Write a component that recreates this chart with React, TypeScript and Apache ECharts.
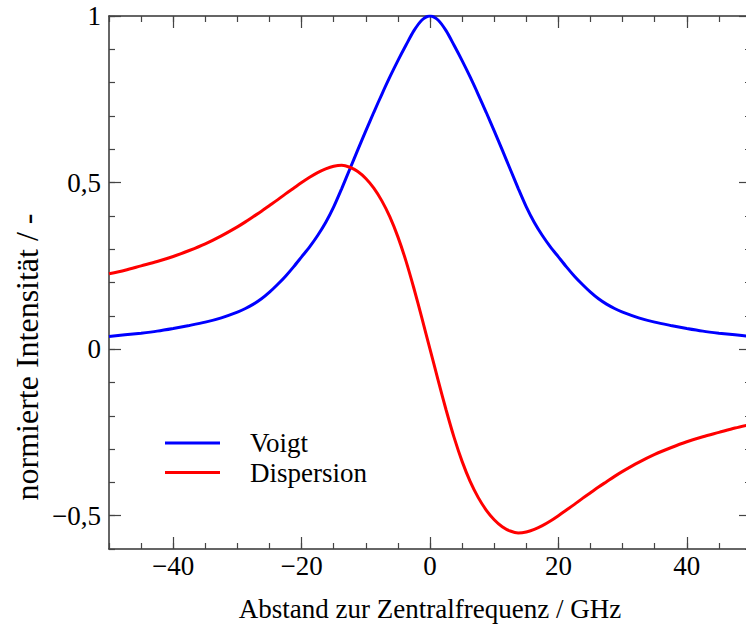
import React, { useEffect, useRef } from 'react';
import * as echarts from 'echarts';

// Frequency offset (GHz)
const freqGHz = [
  -50, -47.5, -45, -42.5, -40, -37.5, -35, -32.5,
  -30, -28.75, -27.5, -26.25, -25, -23.75, -22.5, -21.25, -20, -18.75, -17.5, -16.25,
  -15, -13.75, -12.5, -11.25, -10, -8.75, -7.5, -6.25, -5, -3.75, -2.5, -1.25,
  0,
  1.25, 2.5, 3.75, 5, 6.25, 7.5, 8.75, 10, 11.25, 12.5, 13.75, 15,
  16.25, 17.5, 18.75, 20, 21.25, 22.5, 23.75, 25, 26.25, 27.5, 28.75, 30,
  32.5, 35, 37.5, 40, 42.5, 45, 47.5, 50,
];
// Normalised intensity
const voigt = [
  0.038, 0.043, 0.048, 0.054, 0.062, 0.071, 0.081, 0.094,
  0.111, 0.122, 0.135, 0.151, 0.171, 0.194, 0.219, 0.247, 0.277, 0.307, 0.341, 0.380,
  0.427, 0.482, 0.540, 0.598, 0.655, 0.711, 0.765, 0.817, 0.866, 0.912, 0.956, 0.988,
  1.0,
  0.988, 0.956, 0.912, 0.866, 0.817, 0.765, 0.711, 0.655, 0.598, 0.540, 0.482, 0.427,
  0.380, 0.341, 0.307, 0.277, 0.247, 0.219, 0.194, 0.171, 0.151, 0.135, 0.122, 0.111,
  0.094, 0.081, 0.071, 0.062, 0.054, 0.048, 0.043, 0.038,
];
const dispersion = [
  0.226, 0.237, 0.250, 0.263, 0.278, 0.296, 0.316, 0.340,
  0.367, 0.382, 0.398, 0.414, 0.431, 0.448, 0.466, 0.483, 0.500, 0.516, 0.530, 0.541,
  0.549, 0.552, 0.546, 0.533, 0.512, 0.483, 0.445, 0.397, 0.337, 0.265, 0.182, 0.092,
  0.0,
  -0.092, -0.182, -0.265, -0.337, -0.397, -0.445, -0.483, -0.512, -0.533, -0.546, -0.552, -0.549,
  -0.541, -0.530, -0.516, -0.500, -0.483, -0.466, -0.448, -0.431, -0.414, -0.398, -0.382, -0.367,
  -0.340, -0.316, -0.296, -0.278, -0.263, -0.250, -0.237, -0.226,
];

const seriesNames = ['Voigt', 'Dispersion'];
const xTitle = 'Abstand zur Zentralfrequenz / GHz';
const yTitle = 'normierte Intensität / -';

const FONT = 'Liberation Serif';
const AXIS_COLOR = '#333';
const TICK_COLOR = '#444';

const fmtNum = (v: number) => String(v).replace('.', ',').replace('-', '\u2212');

export default function App() {
  const ref = useRef<HTMLDivElement>(null);
  useEffect(() => {
    if (!ref.current) return;
    const chart = echarts.init(ref.current, null, { renderer: 'svg' });
    const zip = (ys: number[]) => freqGHz.map((x, i) => [x, ys[i]]);

    const minorX = (position: 'top' | 'bottom', extra: any = {}) => ({
      type: 'value', gridIndex: 0, position, min: -50, max: 50, interval: 5,
      axisLine: { show: true, onZero: false, lineStyle: { color: AXIS_COLOR, width: 1.5 } },
      axisTick: { show: true, inside: true, length: 6, lineStyle: { color: TICK_COLOR, width: 1.2 } },
      axisLabel: { show: false }, splitLine: { show: false },
      ...extra,
    });
    const minorY = (position: 'left' | 'right') => ({
      type: 'value', gridIndex: 0, position, min: -0.6, max: 1, interval: 0.1,
      axisLine: { show: true, onZero: false, lineStyle: { color: AXIS_COLOR, width: 1.5 } },
      axisTick: { show: true, inside: true, length: 6, lineStyle: { color: TICK_COLOR, width: 1.2 } },
      axisLabel: { show: false }, splitLine: { show: false },
    });
    const majorX = (position: 'top' | 'bottom', labels: boolean) => ({
      type: 'value', gridIndex: 1, position, min: -40, max: 40, interval: 20,
      axisLine: { show: false, onZero: false },
      axisTick: { show: true, inside: true, length: 12, lineStyle: { color: TICK_COLOR, width: 1.2 } },
      axisLabel: { show: labels, margin: 3, color: '#000', fontSize: 27, fontFamily: FONT, formatter: fmtNum },
      splitLine: { show: false },
    });
    const majorY = (position: 'left' | 'right', labels: boolean) => ({
      type: 'value', gridIndex: 2, position, min: -0.5, max: 1, interval: 0.5,
      axisLine: { show: false, onZero: false },
      axisTick: { show: true, inside: true, length: 12, lineStyle: { color: TICK_COLOR, width: 1.2 } },
      axisLabel: { show: labels, margin: 8, color: '#000', fontSize: 27, fontFamily: FONT, formatter: fmtNum },
      splitLine: { show: false },
    });

    chart.setOption({
      animation: false,
      backgroundColor: '#fff',
      textStyle: { fontFamily: FONT },
      grid: [
        { left: 109, top: 16, width: 642, height: 533 },
        { left: 173.2, top: 16, width: 513.6, height: 533 },
        { left: 109, top: 16, width: 642, height: 499.7 },
      ],
      xAxis: [
        minorX('bottom', {
          name: xTitle, nameLocation: 'middle', nameGap: 46,
          nameTextStyle: { color: '#000', fontSize: 27, fontFamily: FONT },
        }),
        minorX('top'),
        majorX('bottom', true),
        majorX('top', false),
        { type: 'value', gridIndex: 2, min: -50, max: 50, show: false },
      ],
      yAxis: [
        minorY('left'),
        minorY('right'),
        { type: 'value', gridIndex: 1, min: -0.6, max: 1, show: false },
        majorY('left', true),
        majorY('right', false),
      ],
      legend: {
        data: seriesNames,
        orient: 'vertical',
        left: 165, top: 429.5,
        padding: 0,
        icon: 'rect',
        itemWidth: 55, itemHeight: 3, itemGap: 2.6,
        textStyle: { color: '#000', fontSize: 27, fontFamily: FONT, padding: [0, 0, 0, 25] },
      },
      graphic: [
        {
          type: 'text', x: 27, y: 357, rotation: Math.PI / 2,
          style: { text: yTitle, fill: '#000', font: `32px ${FONT}`, align: 'center', verticalAlign: 'middle' },
        },
      ],
      series: [
        {
          name: seriesNames[0], type: 'line', xAxisIndex: 0, yAxisIndex: 0,
          data: zip(voigt), symbol: 'none', showSymbol: false, smooth: 0.3,
          lineStyle: { color: '#0000ff', width: 3 }, itemStyle: { color: '#0000ff' },
        },
        {
          name: seriesNames[1], type: 'line', xAxisIndex: 0, yAxisIndex: 0,
          data: zip(dispersion), symbol: 'none', showSymbol: false, smooth: 0.3,
          lineStyle: { color: '#ff0000', width: 3 }, itemStyle: { color: '#ff0000' },
        },
      ],
    });
    return () => chart.dispose();
  }, []);

  return (
    <div style={{ position: 'absolute', left: 0, top: 0, width: 746, height: 628, overflow: 'hidden', background: '#fff' }}>
      <div ref={ref} style={{ width: 760, height: 628 }} />
    </div>
  );
}
